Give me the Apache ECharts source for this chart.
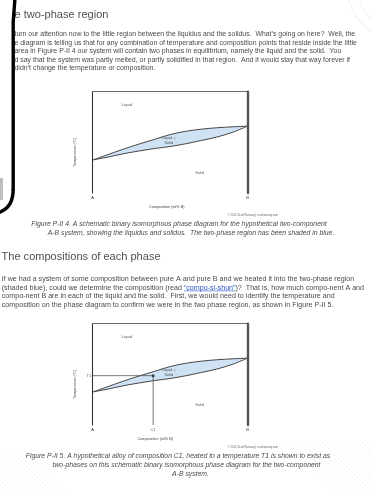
<!DOCTYPE html>
<html>
<head>
<meta charset="utf-8">
<script src="https://cdn.jsdelivr.net/npm/echarts@6/dist/echarts.min.js"></script>
<style>
  html, body { margin: 0; padding: 0; background: #fff; }
  #page { width: 371px; height: 490px; }
</style>
</head>
<body>
<div id="page"></div>
<script>
// Binary isomorphous A-B system: temperature of the liquidus and solidus vs composition
const composition = [0, 10, 20, 30, 40, 50, 60, 70, 80, 90, 100];
const liquidusT  = [32.6, 38.0, 43.4, 48.4, 53.0, 57.7, 60.9, 63.0, 64.4, 65.3, 66.1];
const solidusT   = [32.6, 35.5, 38.8, 41.5, 43.9, 45.9, 48.6, 51.8, 55.2, 59.8, 66.1];

// Alloy C1 held at temperature T1 (second figure)
const alloyC1 = 39;
const alloyT1 = 48.7;

const endLabels = ['A', 'B'];
const regionNames = ['Liquid', 'Liquid +\nSolid', 'Solid'];
const regionC = [22, 49, 69];
const regionT = [87, 52, 20];

const headingText = ['e two-phase region', 'The compositions of each phase'];
const para1 = [
  "turn our attention now to the little region between the liquidus and the solidus.  What\u2019s going on here?  Well, the",
  "e diagram is telling us that for any combination of temperature and composition points that reside inside the little",
  "area in Figure P-II 4 our system will contain two phases in equilibrium, namely the liquid and the solid.  You",
  "d say that the system was partly melted, or partly solidified in that region.  And it would stay that way forever if",
  "didn\u2019t change the temperature or composition."
];
const para2 = [
  "If we had a system of some composition between pure A and pure B and we heated it into the two-phase region",
  ["(shaded blue), could we determine the composition (read ", "\u201Ccompo-si-shun\u201D", ")?  That is, how much compo-nent A and"],
  "compo-nent B are in each of the liquid and the solid.  First, we would need to identify the temperature and",
  "composition on the phase diagram to confirm we were in the two phase region, as shown in Figure P-II 5."
];
const caption1 = [
  "Figure P-II 4. A schematic binary isomorphous phase diagram for the hypothetical two-component",
  "A-B system, showing the liquidus and solidus.  The two-phase region has been shaded in blue."
];
const caption2 = [
  "Figure P-II 5. A hypothetical alloy of composition C1, heated to a temperature T1 is shown to exist as",
  "two-phases on this schematic binary isomorphous phase diagram for the two-component",
  "A-B system."
];
const creditText = '\u00A9 2012 Scott Ramsay | scottramsay.com';

const FONT = '"Liberation Sans", Arial, sans-serif';
const TEXT = '#4a4a4a';
const LINK = '#2a55c8';

const ctx = document.createElement('canvas').getContext('2d');
function measure(text, size, italic) {
  ctx.font = (italic ? 'italic ' : '') + size + 'px ' + FONT;
  return ctx.measureText(text).width;
}
function fitSize(text, width, italic) {
  return 10 * width / measure(text, 10, italic);
}
function fontStr(size, italic) {
  return (italic ? 'italic ' : '') + size.toFixed(2) + 'px ' + FONT;
}
function textEl(text, x, y, size, opts) {
  opts = opts || {};
  return {
    type: 'text', x: x, y: y, silent: true, z: 10,
    style: {
      text: text, font: fontStr(size, opts.italic), fill: opts.fill || TEXT,
      align: opts.align || 'left', verticalAlign: 'middle',
      textAlign: opts.align || 'left', textVerticalAlign: 'middle'
    }
  };
}

const graphics = [];

// faint page texture in the corners
function hatch(x0, y0, x1, y1, step) {
  for (let d = 0; d < (x1 - x0) + (y1 - y0); d += step) {
    graphics.push({
      type: 'line', silent: true, z: 0,
      shape: { x1: x0 + d, y1: y1, x2: x0 + d - (y1 - y0), y2: y0 },
      style: { stroke: '#f6f6f6', lineWidth: 1 }
    });
  }
}
hatch(335, 440, 371, 490, 5);
hatch(0, 455, 35, 490, 5);
[48, 58].forEach(r => graphics.push({
  type: 'arc', silent: true, z: 0,
  shape: { cx: 405, cy: -15, r: r, startAngle: Math.PI * 0.55, endAngle: Math.PI * 1.0 },
  style: { stroke: '#f3f3f3', lineWidth: 1.2, fill: null }
}));

// headings
const headSize = fitSize(headingText[0], 94);
graphics.push(textEl(headingText[0], 14.5, 15, headSize, { fill: '#505050' }));
graphics.push(textEl(headingText[1], 1.5, 256.7, headSize, { fill: '#505050' }));

// first paragraph
const p1Size = fitSize(para1[0], 341);
para1.forEach((line, i) => graphics.push(textEl(line, 14.5, 34.3 + i * 8.5, p1Size)));

// second paragraph, one line holds an underlined link
const p2Size = fitSize(para2[0], 353);
para2.forEach((line, i) => {
  const y = 279 + i * 8.6;
  if (Array.isArray(line)) {
    const x0 = 1.7;
    const w0 = measure(line[0], p2Size);
    const w1 = measure(line[1], p2Size);
    graphics.push(textEl(line[0], x0, y, p2Size));
    graphics.push(textEl(line[1], x0 + w0, y, p2Size, { fill: LINK }));
    graphics.push(textEl(line[2], x0 + w0 + w1, y, p2Size));
    graphics.push({
      type: 'line', silent: true, z: 10,
      shape: { x1: x0 + w0, y1: y + p2Size * 0.45, x2: x0 + w0 + w1, y2: y + p2Size * 0.45 },
      style: { stroke: LINK, lineWidth: 0.6 }
    });
  } else {
    graphics.push(textEl(line, 1.7, y, p2Size));
  }
});

// captions
const capSize = fitSize(caption1[0], 296, true);
const cap1Centers = [179, 191];
caption1.forEach((line, i) => graphics.push(textEl(line, cap1Centers[i], 224 + i * 8.8, capSize, { italic: true, align: 'center' })));
const cap2Centers = [178, 186.5, 190.5];
caption2.forEach((line, i) => graphics.push(textEl(line, cap2Centers[i], 456 + i * 8.8, capSize, { italic: true, align: 'center' })));

// credit lines under each diagram
graphics.push(textEl(creditText, 278, 215, 2.8, { align: 'right', fill: '#666' }));
graphics.push(textEl(creditText, 278, 447, 2.8, { align: 'right', fill: '#666' }));

// device frame edge on the left
graphics.push({
  type: 'rect', silent: true, z: 10, shape: { x: 0, y: 178, width: 3, height: 22 },
  style: { fill: '#bdbdbd' }
});
graphics.push({
  type: 'polyline', silent: true, z: 11,
  shape: { points: [[15, -2], [13.2, 22], [13.2, 190]] },
  style: { fill: null, stroke: '#000', lineWidth: 3.4 }
});
graphics.push({
  type: 'bezierCurve', silent: true, z: 11,
  shape: { x1: 13.2, y1: 189, cpx1: 13.2, cpy1: 209, x2: -3, y2: 213 },
  style: { fill: null, stroke: '#000', lineWidth: 3.4 }
});

// ---- diagrams ----
const grids = [
  { left: 92.7, top: 91.7, width: 155, height: 101.3 },
  { left: 92.7, top: 323.7, width: 155, height: 101.3 }
];
const xNamePad = [[0, 7, 0, 0], [0, 30, 0, 0]];

const xAxes = [], yAxes = [], series = [];

grids.forEach((g, i) => {
  // bottom axis: end labels + title
  xAxes.push({
    gridIndex: i, type: 'value', position: 'bottom', min: 0, max: 100, interval: 100,
    axisLine: { show: false, onZero: false }, axisTick: { show: false }, splitLine: { show: false },
    axisLabel: {
      margin: 3, fontSize: 4, fontFamily: FONT, color: '#333',
      formatter: v => (v === 0 ? endLabels[0] : endLabels[1])
    },
    name: 'Composition (wt% B)', nameLocation: 'middle', nameGap: 11.6,
    nameTextStyle: { fontSize: 3.8, fontFamily: FONT, color: '#444', padding: xNamePad[i] }
  });
  // top border
  xAxes.push({
    gridIndex: i, type: 'value', position: 'top', min: 0, max: 100, z: 5,
    axisLine: { show: true, onZero: false, lineStyle: { color: '#444', width: 0.8 } },
    axisTick: { show: false }, axisLabel: { show: false }, splitLine: { show: false }
  });
  // left temperature axis
  yAxes.push({
    gridIndex: i, type: 'value', position: 'left', min: 0, max: 100, z: 5,
    axisLine: { show: true, onZero: false, lineStyle: { color: '#333', width: 1.1 } },
    axisTick: { show: false }, axisLabel: { show: false }, splitLine: { show: false },
    name: 'Temperature (\u00B0C)', nameLocation: 'middle', nameRotate: 90, nameGap: 15.5,
    nameTextStyle: { fontSize: 3.8, fontFamily: FONT, color: '#444', padding: [0, 20, 0, 0] }
  });
  // right border (pure B)
  yAxes.push({
    gridIndex: i, type: 'value', position: 'right', min: 0, max: 100, z: 5,
    axisLine: { show: true, onZero: false, lineStyle: { color: '#555', width: 2.4 } },
    axisTick: { show: false }, axisLabel: { show: false }, splitLine: { show: false }
  });

  const xi = i * 2, yi = i * 2;
  // liquidus, shaded down to the axis
  series.push({
    type: 'line', xAxisIndex: xi, yAxisIndex: yi, z: 2,
    data: composition.map((c, k) => [c, liquidusT[k]]),
    smooth: 0.35, symbol: 'none', silent: true,
    lineStyle: { color: '#333', width: 0.9 },
    areaStyle: { color: '#cfe2f4', opacity: 1, origin: 'start' }
  });
  // solidus, white below it so only the lens stays blue
  series.push({
    type: 'line', xAxisIndex: xi, yAxisIndex: yi, z: 3,
    data: composition.map((c, k) => [c, solidusT[k]]),
    smooth: 0.35, symbol: 'none', silent: true,
    lineStyle: { color: '#333', width: 0.9 },
    areaStyle: { color: '#ffffff', opacity: 1, origin: 'start' }
  });
  // phase-field names
  series.push({
    type: 'scatter', xAxisIndex: xi, yAxisIndex: yi, z: 6, silent: true,
    symbolSize: 0, clip: false,
    data: regionNames.map((n, k) => ({ name: n, value: [regionC[k], regionT[k]] })),
    label: {
      show: true, position: 'inside', formatter: p => p.name,
      fontSize: 4, lineHeight: 4.8, fontFamily: FONT, color: '#333', align: 'center'
    }
  });
});

// alloy C1 at T1: tie line to the temperature axis and drop line to the composition axis
series.push({
  type: 'line', xAxisIndex: 2, yAxisIndex: 2, z: 7, silent: true,
  data: [[0, alloyT1], [alloyC1, alloyT1], [alloyC1, 0]],
  symbol: 'none', lineStyle: { color: '#555', width: 0.8 }
});
series.push({
  type: 'scatter', xAxisIndex: 2, yAxisIndex: 2, z: 8, silent: true,
  data: [[alloyC1, alloyT1]], symbolSize: 3, itemStyle: { color: '#222' }
});
series.push({
  type: 'scatter', xAxisIndex: 2, yAxisIndex: 2, z: 8, silent: true, clip: false,
  symbolSize: 0,
  data: [
    { name: 'T1', value: [0, alloyT1], label: { position: 'left', distance: 1.5 } },
    { name: 'C1', value: [alloyC1, 0], label: { position: 'bottom', distance: 3.2 } }
  ],
  label: { show: true, formatter: p => p.name, fontSize: 4, fontFamily: FONT, color: '#333' }
});

const chart = echarts.init(document.getElementById('page'), null, { renderer: 'canvas', width: 371, height: 490 });
chart.setOption({
  animation: false,
  backgroundColor: '#ffffff',
  grid: grids,
  xAxis: xAxes,
  yAxis: yAxes,
  series: series,
  graphic: { elements: graphics }
});
</script>
</body>
</html>
